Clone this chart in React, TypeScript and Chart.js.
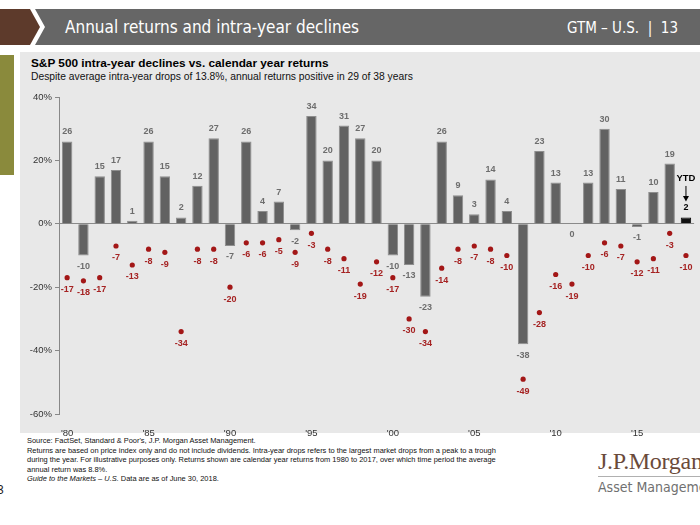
import React, { useEffect, useRef } from 'react';
import { Chart, registerables } from 'chart.js';

Chart.register(...registerables);

const years = [
  '1980', '1981', '1982', '1983', '1984', '1985', '1986', '1987', '1988', '1989',
  '1990', '1991', '1992', '1993', '1994', '1995', '1996', '1997', '1998', '1999',
  '2000', '2001', '2002', '2003', '2004', '2005', '2006', '2007', '2008', '2009',
  '2010', '2011', '2012', '2013', '2014', '2015', '2016', '2017', '2018',
];

const annualReturns = [
  26, -10, 15, 17, 1, 26, 15, 2, 12, 27,
  -7, 26, 4, 7, -2, 34, 20, 31, 27, 20,
  -10, -13, -23, 26, 9, 3, 14, 4, -38, 23,
  13, 0, 13, 30, 11, -1, 10, 19, 2,
];

const intraYearDeclines = [
  -17, -18, -17, -7, -13, -8, -9, -34, -8, -8,
  -20, -6, -6, -5, -9, -3, -8, -11, -19, -12,
  -17, -30, -34, -14, -8, -7, -8, -10, -49, -28,
  -16, -19, -10, -6, -7, -12, -11, -3, -10,
];

const yTickValues = [40, 20, 0, -20, -40, -60];
const ytdLabel = 'YTD';

const FONT = '"Liberation Sans", Arial, Helvetica, sans-serif';
const NARROW = '"Liberation Sans Narrow", "DejaVu Sans Condensed", sans-serif';

const labelPlugin = {
  id: 'valueLabels',
  afterDatasetsDraw(chart: any) {
    const ctx = chart.ctx as CanvasRenderingContext2D;
    const barMeta = chart.getDatasetMeta(0);
    const dotMeta = chart.getDatasetMeta(1);
    ctx.save();
    ctx.textAlign = 'center';
    ctx.textBaseline = 'middle';
    ctx.font = `bold 9px ${FONT}`;
    barMeta.data.forEach((el: any, i: number) => {
      const v = annualReturns[i];
      const isYtd = i === years.length - 1;
      ctx.fillStyle = isYtd ? '#000000' : '#6d6d6d';
      const y = v > 0 ? el.y - 9.5 : el.y + 11;
      ctx.fillText(String(v), el.x, y);
      if (isYtd) {
        ctx.font = `bold 9.5px ${FONT}`;
        ctx.fillText(ytdLabel, el.x, y - 29.5);
        ctx.strokeStyle = '#000';
        ctx.lineWidth = 1;
        ctx.beginPath();
        ctx.moveTo(el.x, y - 22);
        ctx.lineTo(el.x, y - 10);
        ctx.stroke();
        ctx.beginPath();
        ctx.moveTo(el.x - 3, y - 12);
        ctx.lineTo(el.x + 3, y - 12);
        ctx.lineTo(el.x, y - 6.5);
        ctx.closePath();
        ctx.fill();
        ctx.font = `bold 9px ${FONT}`;
      }
    });
    ctx.fillStyle = '#a52222';
    dotMeta.data.forEach((el: any, i: number) => {
      ctx.fillText(String(intraYearDeclines[i]), el.x, el.y + 12);
    });
    ctx.restore();
  },
};

export default function App() {
  const ref = useRef<HTMLCanvasElement>(null);

  useEffect(() => {
    if (!ref.current) return;
    const n = years.length;
    const chart = new Chart(ref.current, {
      type: 'bar',
      data: {
        labels: years,
        datasets: [
          {
            type: 'bar',
            data: annualReturns,
            backgroundColor: years.map((_, i) => (i === n - 1 ? '#111111' : '#626262')),
            borderColor: years.map((_, i) => (i === n - 1 ? '#000000' : '#8e8e8e')),
            borderWidth: 1,
            barPercentage: 0.64,
            categoryPercentage: 1.0,
            order: 2,
          } as any,
          {
            type: 'line',
            data: intraYearDeclines,
            showLine: false,
            pointRadius: 2.6,
            pointBackgroundColor: '#a31717',
            pointBorderWidth: 0,
            pointHoverRadius: 2.6,
            order: 1,
          } as any,
        ],
      },
      options: {
        responsive: false,
        animation: false,
        devicePixelRatio: 1,
        layout: { padding: { top: 97, bottom: 81, left: 0, right: 3 } },
        plugins: {
          legend: { display: false },
          tooltip: { enabled: false },
        },
        scales: {
          x: {
            offset: true,
            grid: { display: false, drawTicks: false },
            border: { display: false },
            ticks: {
              autoSkip: false,
              maxRotation: 0,
              minRotation: 0,
              padding: 14,
              color: '#333333',
              font: { family: FONT, size: 9.5 },
              callback: (_v: any, idx: number) => (idx % 5 === 0 ? "'" + years[idx].slice(2) : ''),
            },
            afterFit: (s: any) => {
              s.height = 30;
            },
          },
          y: {
            min: -60,
            max: 40,
            afterBuildTicks: (s: any) => {
              s.ticks = yTickValues.map((v) => ({ value: v }));
            },
            ticks: {
              padding: 3,
              color: '#333333',
              font: { family: FONT, size: 9.5 },
              callback: (v: any) => v + '%',
            },
            grid: {
              drawOnChartArea: true,
              drawTicks: true,
              tickLength: 4,
              tickColor: '#888888',
              color: (ctx: any) => (ctx.tick && ctx.tick.value === 0 ? '#8a8a8a' : 'rgba(0,0,0,0)'),
            },
            border: { display: true, color: '#888888' },
            afterFit: (s: any) => {
              s.width = 59;
            },
          },
        },
      },
      plugins: [labelPlugin],
    } as any);
    return () => chart.destroy();
  }, []);

  return (
    <div
      style={{
        position: 'absolute',
        left: 0,
        top: 0,
        width: 700,
        height: 525,
        overflow: 'hidden',
        background: '#ffffff',
        fontFamily: FONT,
      }}
    >
      {/* header */}
      <div
        style={{
          position: 'absolute',
          left: 0,
          top: 9,
          width: 40,
          height: 36,
          background: '#5d3a2b',
          clipPath: 'polygon(0 0, 30px 0, 40px 50%, 30px 100%, 0 100%)',
        }}
      />
      <div
        style={{
          position: 'absolute',
          left: 35,
          top: 9,
          width: 665,
          height: 36,
          background: '#666666',
          clipPath: 'polygon(0 0, 100% 0, 100% 100%, 0 100%, 10px 50%)',
        }}
      />
      <div
        style={{
          position: 'absolute',
          left: 65,
          top: 16,
          color: '#ffffff',
          fontFamily: NARROW,
          fontSize: 17,
          whiteSpace: 'nowrap',
          lineHeight: '22px',
        }}
      >
        Annual returns and intra-year declines
      </div>
      <div
        style={{
          position: 'absolute',
          right: 22,
          top: 17,
          color: '#ffffff',
          fontFamily: NARROW,
          fontSize: 15,
          whiteSpace: 'nowrap',
          lineHeight: '22px',
        }}
      >
        GTM – U.S.&nbsp;&nbsp;|&nbsp;&nbsp;13
      </div>

      {/* panel */}
      <div style={{ position: 'absolute', left: 20, top: 52, width: 680, height: 381, background: '#e8e8e8' }} />
      <div style={{ position: 'absolute', left: 0, top: 55, width: 14, height: 120, background: '#8a8a3c' }} />

      <div
        style={{
          position: 'absolute',
          left: 31,
          top: 56,
          fontSize: 11.8,
          fontWeight: 'bold',
          color: '#000',
          whiteSpace: 'nowrap',
          lineHeight: '14px',
        }}
      >
        S&amp;P 500 intra-year declines vs. calendar year returns
      </div>
      <div
        style={{
          position: 'absolute',
          left: 31,
          top: 71,
          fontSize: 10.3,
          color: '#111',
          whiteSpace: 'nowrap',
          lineHeight: '12px',
        }}
      >
        Despite average intra-year drops of 13.8%, annual returns positive in 29 of 38 years
      </div>

      {/* footnotes */}
      <div
        style={{
          position: 'absolute',
          left: 27,
          top: 436,
          fontSize: 7.45,
          color: '#111',
          whiteSpace: 'nowrap',
          lineHeight: '9.5px',
        }}
      >
        Source: FactSet, Standard &amp; Poor's, J.P. Morgan Asset Management.
        <br />
        Returns are based on price index only and do not include dividends. Intra-year drops refers to the largest market drops from a peak to a trough
        <br />
        during the year. For illustrative purposes only. Returns shown are calendar year returns from 1980 to 2017, over which time period the average
        <br />
        annual return was 8.8%.
        <br />
        <i>Guide to the Markets – U.S.</i> Data are as of June 30, 2018.
      </div>

      {/* logo */}
      <div
        style={{
          position: 'absolute',
          left: 598,
          top: 447,
          fontFamily: '"Liberation Serif", "DejaVu Serif", serif',
          fontSize: 24,
          color: '#6a4a3a',
          whiteSpace: 'nowrap',
          lineHeight: '28px',
          letterSpacing: -0.3,
        }}
      >
        J.P.Morgan
      </div>
      <div style={{ position: 'absolute', left: 598, top: 476, width: 102, height: 1, background: '#b0b0b0' }} />
      <div
        style={{
          position: 'absolute',
          left: 598,
          top: 478,
          fontFamily: NARROW,
          fontSize: 14,
          color: '#707070',
          whiteSpace: 'nowrap',
          lineHeight: '18px',
        }}
      >
        Asset Management
      </div>
      <div
        style={{
          position: 'absolute',
          left: -3,
          top: 482,
          fontSize: 12,
          color: '#222',
          lineHeight: '16px',
        }}
      >
        3
      </div>

      <canvas
        ref={ref}
        width={700}
        height={525}
        style={{ position: 'absolute', left: 0, top: 0, width: 700, height: 525, display: 'block' }}
      />
    </div>
  );
}
